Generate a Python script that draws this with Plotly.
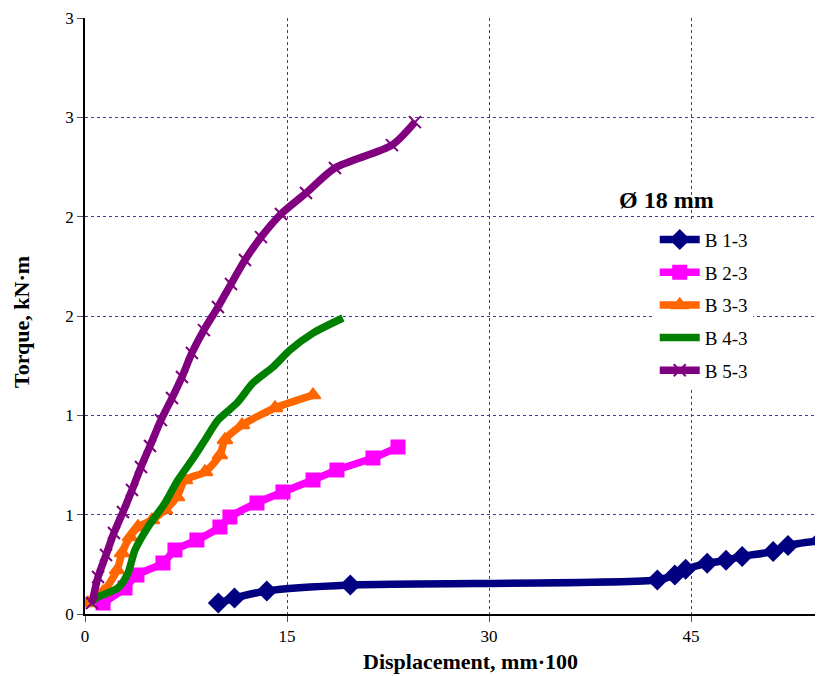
import plotly.graph_objects as go

b13_x = [9.9, 11.1, 13.5, 19.7, 42.5, 43.8, 44.6, 46.2, 47.6, 48.8, 51.1, 52.2, 54.6]
b13_y = [0.055, 0.08, 0.116, 0.146, 0.171, 0.196, 0.225, 0.255, 0.27, 0.29, 0.315, 0.345, 0.37]

b23_x = [1.34, 2.97, 3.86, 5.79, 6.68, 8.31, 10.02, 10.76, 12.77, 14.70, 16.93, 18.71, 21.38, 23.24]
b23_y = [0.055, 0.131, 0.196, 0.257, 0.322, 0.372, 0.438, 0.488, 0.559, 0.614, 0.674, 0.725, 0.785, 0.840]

b33_x = [0.22, 1.34, 2.38, 2.75, 3.34, 3.93, 4.97, 5.94, 6.83, 7.42, 8.91, 10.02, 10.39, 11.66, 14.11, 16.93]
b33_y = [0.055, 0.11, 0.221, 0.307, 0.387, 0.438, 0.473, 0.523, 0.589, 0.674, 0.715, 0.800, 0.876, 0.951, 1.037, 1.102]

b43_x = [0.37, 0.97, 2.45, 3.19, 3.71, 4.68, 5.94, 6.90, 7.94, 8.91, 9.87, 11.28, 12.47, 13.96, 15.22, 16.93, 19.15]
b43_y = [0.055, 0.086, 0.131, 0.206, 0.322, 0.438, 0.559, 0.674, 0.775, 0.876, 0.976, 1.062, 1.163, 1.243, 1.329, 1.414, 1.490]

b53_x = [0.52, 0.97, 1.56, 2.15, 2.82, 3.49, 4.16, 4.83, 5.64, 6.46, 7.20, 7.94, 8.83, 9.87, 10.84, 11.88, 13.07, 14.55, 16.41, 18.56, 22.79, 24.50]
b53_y = [0.055, 0.186, 0.297, 0.408, 0.513, 0.624, 0.740, 0.846, 0.976, 1.087, 1.193, 1.314, 1.429, 1.545, 1.661, 1.782, 1.897, 2.013, 2.119, 2.245, 2.360, 2.476]

y_tickvals = [0, 0.5, 1, 1.5, 2, 2.5, 3]
y_ticktext = ["0", "1", "1", "2", "2", "3", "3"]
x_tickvals = [0, 15, 30, 45]

series = [
    ("B 1-3", b13_x, b13_y, "#000080", "diamond", 14),
    ("B 2-3", b23_x, b23_y, "#FF00FF", "square", 13),
    ("B 3-3", b33_x, b33_y, "#FF6600", "triangle-up", 13),
    ("B 4-3", b43_x, b43_y, "#008000", None, 0),
    ("B 5-3", b53_x, b53_y, "#800080", "x-thin-open", 12),
]

fig = go.Figure()
for name, xs, ys, col, sym, sz in series:
    if sym is None:
        mode = "lines"
        marker = None
    else:
        mode = "lines+markers"
        marker = dict(symbol=sym, size=sz, color=col, line=dict(color=col, width=2))
    fig.add_trace(go.Scatter(
        x=xs, y=ys, name=name, mode=mode, legendgroup=name,
        line=dict(color=col, width=7.5, shape="spline", smoothing=0.7),
        marker=marker,
    ))

font_family = "Liberation Serif, Times New Roman, serif"

fig.update_layout(
    width=815, height=668,
    margin=dict(l=77, r=0, t=10, b=62),
    paper_bgcolor="white",
    plot_bgcolor="white",
    font=dict(family=font_family, size=17, color="black"),
    showlegend=True,
    legend=dict(
        x=0.772, y=0.66, xanchor="left", yanchor="top",
        bgcolor="white",
        font=dict(family=font_family, size=19, color="black"),
        itemwidth=40,
        tracegroupgap=5,
    ),
    annotations=[
        dict(text="<b>Ø 18 mm</b>", xref="paper", yref="paper",
             x=0.721, y=0.6946, xanchor="left", yanchor="middle",
             showarrow=False, font=dict(family=font_family, size=24, color="black")),
        dict(text="<b>Displacement, mm·100</b>", xref="paper", yref="paper",
             x=0.5217, y=-0.0805, xanchor="center", yanchor="middle",
             showarrow=False, font=dict(family=font_family, size=22, color="black")),
        dict(text="<b>Torque, kN·m</b>", xref="paper", yref="paper",
             x=-0.0854, y=0.49, xanchor="center", yanchor="middle", textangle=-90,
             showarrow=False, font=dict(family=font_family, size=22, color="black")),
    ],
)

fig.update_xaxes(
    range=[0, 54.8],
    tickvals=x_tickvals,
    ticktext=[str(v) for v in x_tickvals],
    showgrid=True, gridcolor="#3a3aa8", griddash="dot", gridwidth=1,
    showline=True, linecolor="black", linewidth=1.5,
    ticks="outside", ticklen=6, tickcolor="#555555",
    tickfont=dict(family=font_family, size=17),
    zeroline=False,
)
fig.update_yaxes(
    range=[0, 3],
    tickvals=y_tickvals,
    ticktext=y_ticktext,
    showgrid=True, gridcolor="#3a3aa8", griddash="dot", gridwidth=1,
    showline=True, linecolor="black", linewidth=1.5,
    ticks="outside", ticklen=6, tickcolor="#555555",
    tickfont=dict(family=font_family, size=17),
    zeroline=False,
)

fig.write_html("out.html")
